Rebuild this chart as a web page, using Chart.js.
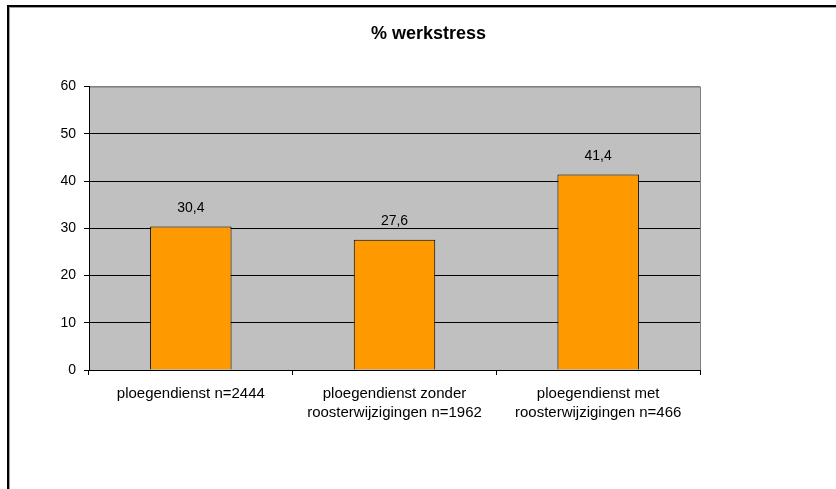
<!DOCTYPE html>
<html>
<head>
<meta charset="utf-8">
<script src="https://cdn.jsdelivr.net/npm/chart.js@4.4.0/dist/chart.umd.min.js"></script>
<style>
html,body{margin:0;padding:0;background:#fff;}
canvas{display:block;}
</style>
</head>
<body>
<canvas id="c" width="836" height="489"></canvas>
<script>
const titleText = '% werkstress';
const categories = [
  ['ploegendienst n=2444'],
  ['ploegendienst zonder', 'roosterwijzigingen n=1962'],
  ['ploegendienst met', 'roosterwijzigingen n=466']
];
const werkstress = [30.4, 27.6, 41.4];
const yMin = 0, yMax = 60, yStep = 10;

const FONT = "'Liberation Sans', Arial, sans-serif";

const framePlugin = {
  id: 'frame',
  beforeDraw(chart) {
    const ctx = chart.ctx;
    ctx.save();
    ctx.fillStyle = '#fff';
    ctx.fillRect(0, 0, chart.width, chart.height);
    ctx.fillStyle = '#000';
    ctx.fillRect(7, 5, chart.width - 7, 2);
    ctx.fillRect(7, 5, 2, chart.height - 5);
    ctx.fillStyle = '#a0a0a0';
    ctx.fillRect(9, 7, chart.width - 9, 1);
    ctx.fillRect(9, 7, 1, chart.height - 7);
    const a = chart.chartArea;
    ctx.fillStyle = '#C0C0C0';
    ctx.fillRect(a.left, a.top, a.right - a.left, a.bottom - a.top);
    ctx.strokeStyle = '#808080';
    ctx.lineWidth = 1;
    ctx.strokeRect(a.left + 0.5, a.top + 0.5, a.right - a.left, a.bottom - a.top);
    ctx.restore();
  }
};

const labelPlugin = {
  id: 'barLabels',
  afterDatasetsDraw(chart) {
    const ctx = chart.ctx;
    ctx.save();
    ctx.font = '14px ' + FONT;
    ctx.fillStyle = '#000';
    ctx.textAlign = 'center';
    ctx.textBaseline = 'middle';
    const meta = chart.getDatasetMeta(0);
    meta.data.forEach((bar, i) => {
      const v = chart.data.datasets[0].data[i];
      ctx.fillText(v.toFixed(1).replace('.', ','), bar.x, bar.y - 18);
    });
    ctx.restore();
  }
};

new Chart(document.getElementById('c'), {
  type: 'bar',
  data: {
    labels: categories,
    datasets: [{
      label: titleText,
      data: werkstress,
      backgroundColor: '#FF9900',
      borderColor: '#000',
      borderWidth: 1,
      barPercentage: 0.4,
      categoryPercentage: 1.0
    }]
  },
  options: {
    responsive: false,
    animation: false,
    devicePixelRatio: 1,
    layout: { padding: { left: 21, right: 0, top: 0, bottom: 0 } },
    plugins: {
      legend: { display: false },
      tooltip: { enabled: false },
      title: {
        display: true,
        text: titleText,
        color: '#000',
        font: { family: FONT, size: 18, weight: 'bold', lineHeight: 1.2 },
        padding: { top: 23, bottom: 42 }
      }
    },
    scales: {
      x: {
        grid: {
          display: true,
          offset: true,
          drawOnChartArea: false,
          drawTicks: true,
          tickLength: 5,
          tickColor: '#000'
        },
        border: { display: true, color: '#000', width: 1 },
        ticks: {
          color: '#000',
          font: { family: FONT, size: 15, lineHeight: 1.27 },
          maxRotation: 0,
          minRotation: 0,
          autoSkip: false,
          padding: 9
        },
        afterFit(scale) { scale.height = 119; }
      },
      y: {
        min: yMin,
        max: yMax,
        ticks: {
          stepSize: yStep,
          color: '#000',
          font: { family: FONT, size: 14 },
          padding: 8
        },
        grid: {
          color: (c) => (c.tick && c.tick.value === yMax) ? '#808080' : '#000',
          tickColor: '#000',
          tickLength: 5,
          lineWidth: 1
        },
        border: { display: true, color: '#000', width: 1 },
        afterFit(scale) { scale.width = 68; }
      },
      spacer: {
        type: 'linear',
        position: 'right',
        display: true,
        grid: { display: false },
        ticks: { display: false },
        border: { display: false },
        afterFit(scale) { scale.width = 136; }
      }
    }
  },
  plugins: [framePlugin, labelPlugin]
});
</script>
</body>
</html>
